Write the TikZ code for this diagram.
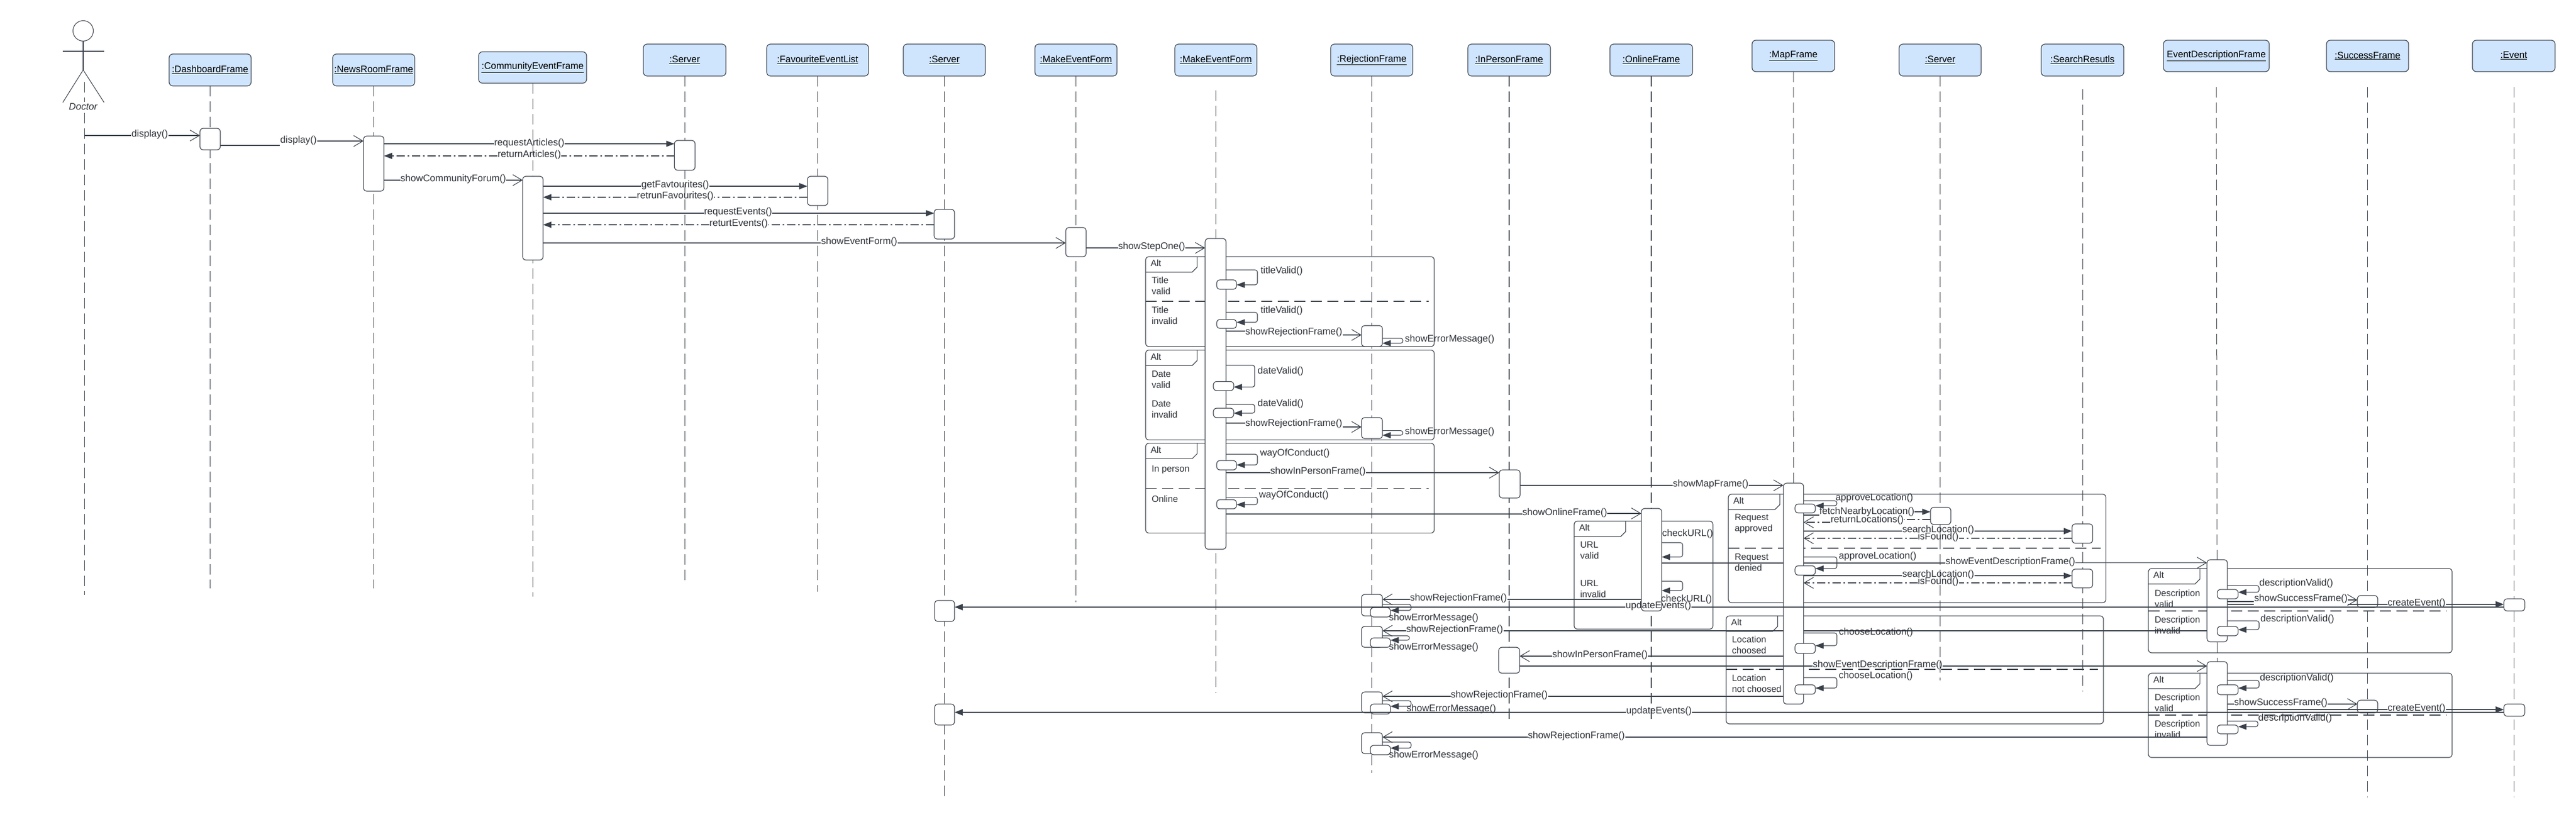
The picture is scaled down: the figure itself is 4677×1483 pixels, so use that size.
\documentclass[tikz,border=0pt]{standalone}
\usepackage{fontspec}
\setmainfont{Liberation Sans}
\usetikzlibrary{arrows.meta,backgrounds}
\definecolor{ln}{HTML}{3A414A}
\definecolor{txt}{HTML}{2E3238}
\definecolor{hdrfill}{HTML}{CFE4FD}
\newcount\lbc
\tikzset{
  base/.style={line width=1.2pt,draw=ln},
  hdr/.style={base,fill=hdrfill,rounded corners=7pt,inner sep=0pt,outer sep=0pt,text=black,font=\fontsize{17.2}{20}\selectfont,line width=1.2pt},
  actbox/.style={base,fill=white,rounded corners=6pt,inner sep=0pt,outer sep=0pt,line width=1.2pt},
  lifeline/.style={draw=ln,line width=1pt,dash pattern=on 19pt off 9pt},
  lifebold/.style={draw=ln,line width=1.8pt,dash pattern=on 19pt off 9pt},
  framebox/.style={base,rounded corners=6pt,inner sep=0pt,outer sep=0pt,line width=1.2pt},
  tabline/.style={base,line width=1.2pt},
  divider/.style={draw=ln,line width=1.1pt,dash pattern=on 20pt off 10pt,shorten >=10pt},
  lbl/.style={inner sep=0.5pt,outer sep=0pt,text=txt,font=\fontsize{17.5}{20}\selectfont},
  frtext/.style={inner sep=0pt,outer sep=0pt,text=txt,font=\fontsize{16.5}{20}\selectfont,align=left,anchor=west},
  msgline/.style={base},
  heavy/.style={line width=2.5pt},
  dd/.style={dash pattern=on 15pt off 5pt on 3pt off 5pt,line width=1.8pt},
  ddthin/.style={dash pattern=on 15pt off 5pt on 3pt off 5pt,line width=1.2pt},
  fhead/.style={-{Triangle[length=15pt,width=11pt]}},
  ohead/.style={-{Straight Barb[length=17pt,width=20pt,line width=1.1pt]}},
  selfl/.style={base,rounded corners=4pt,fhead},
}
\newcommand{\hdbox}[6]{\node[hdr,minimum width={(#4-#2)*1pt},minimum height={(#5-#3)*1pt}] (#1) at ({(#2+#4)/2},{(#3+#5)/2}) {\raisebox{3pt}{\underline{#6}}};}
\newcommand{\actv}[5]{\node[actbox,minimum width={(#4-#2)*1pt},minimum height={(#5-#3)*1pt}] (#1) at ({(#2+#4)/2},{(#3+#5)/2}) {};}
\newcommand{\msgr}[9][]{\global\advance\lbc by 1
  \node[lbl,name=lb\the\lbc] at (#4,#5) {#6};
  \draw[msgline,#1] (#2 |- 0,#3) -- (lb\the\lbc.west |- 0,#3);
  \draw[msgline,#1,#9] (lb\the\lbc.east |- 0,#8) -- (#7 |- 0,#8);}
\newcommand{\msgl}[9][]{\global\advance\lbc by 1
  \node[lbl,name=lb\the\lbc] at (#4,#5) {#6};
  \draw[msgline,#1] (#2 |- 0,#3) -- (lb\the\lbc.east |- 0,#3);
  \draw[msgline,#1,#9] (lb\the\lbc.west |- 0,#8) -- (#7 |- 0,#8);}
\newcommand{\mlab}[3]{\global\advance\lbc by 1 \node[lbl,name=lb\the\lbc] at (#1,#2) {#3};}
\newcommand{\selfm}[6][]{\draw[selfl,#1] (#2.east |- 0,#3) -- (#4,#3) -- (#4,#5) -- (#6.east |- 0,#5);}
\newcommand{\altfr}[5]{%
  \node[framebox,minimum width={(#4-#2)*1pt},minimum height={(#5-#3)*1pt}] (#1) at ({(#2+#4)/2},{(#3+#5)/2}) {};
  \draw[tabline] ({#2+93.5},#3) -- ({#2+93.5},{#3+19}) -- ({#2+84.5},{#3+28}) -- (#1.west |- 0,{#3+28});
  \node[frtext,name=#1t] at ({#2+9},{#3+12}) {Alt};}
\begin{document}
\begin{tikzpicture}[x=1pt,y=-1pt]
\useasboundingbox (0,0) rectangle (4677,1483);

% headers
\hdbox{hDash}{307}{98}{456}{156}{:DashboardFrame}
\hdbox{hNews}{604}{98}{753}{156}{:NewsRoomFrame}
\hdbox{hComm}{869}{94}{1065}{151}{:CommunityEventFrame}
\hdbox{hSrvA}{1168}{80}{1318}{138}{:Server}
\hdbox{hFav}{1392}{80}{1577}{138}{:FavouriteEventList}
\hdbox{hSrvB}{1640}{80}{1789}{138}{:Server}
\hdbox{hMkA}{1879}{80}{2028}{138}{:MakeEventForm}
\hdbox{hMkB}{2133}{80}{2282}{138}{:MakeEventForm}
\hdbox{hRej}{2416}{80}{2565}{138}{:RejectionFrame}
\hdbox{hInP}{2665}{80}{2815}{138}{:InPersonFrame}
\hdbox{hOnl}{2923}{80}{3073}{138}{:OnlineFrame}
\hdbox{hMap}{3181}{73}{3331}{130}{:MapFrame}
\hdbox{hSrvC}{3448}{80}{3597}{138}{:Server}
\hdbox{hSea}{3706}{80}{3856}{138}{:SearchResutls}
\hdbox{hEvD}{3928}{73}{4120}{130}{EventDescriptionFrame}
\hdbox{hSuc}{4224}{73}{4373}{130}{:SuccessFrame}
\hdbox{hEvt}{4489}{73}{4639}{130}{:Event}

% actor
\node[circle,draw=ln,line width=1.1pt,minimum size=37pt,inner sep=0pt,outer sep=0pt] (actorhead) at (151,56) {};
\coordinate (actorhip) at (151,127);
\coordinate (armL) at (114,93);
\coordinate (armR) at (189,93);
\coordinate (legL) at (114,186);
\coordinate (legR) at (189,186);
\draw[ln,line width=1.1pt] (actorhead.south) -- (actorhip);
\draw[ln,line width=1.1pt] (armL) -- (armR);
\draw[ln,line width=1.1pt] (legL) -- (actorhip) -- (legR);
\node[lbl,fill=white,inner ysep=3pt,name=actorname] at (151,194) {\itshape Doctor};
\coordinate (actorline) at (153,149);

% activations
\actv{aDash}{363}{233}{400}{272}
\actv{aNews}{660}{247}{697}{347}
\actv{aComm}{949}{320}{986}{472}
\actv{aSrvA}{1224.5}{255}{1262}{309}
\actv{aFav}{1466}{320}{1503}{373}
\actv{aSrvB}{1696}{380}{1733}{434}
\actv{aMkA}{1935}{413}{1972}{466}
\actv{aMkB}{2188}{433}{2226}{997}
\actv{sT1}{2209}{508}{2245}{525}
\actv{sT2}{2209}{580}{2245}{596}
\actv{rej1}{2472}{591}{2510}{629}
\actv{sD1}{2203}{692.5}{2240}{709}
\actv{sD2}{2203}{741}{2240}{758}
\actv{rej2}{2472}{758}{2510}{796}
\actv{sW1}{2209}{836}{2245}{853}
\actv{sW2}{2209}{907}{2245}{923.6}
\actv{inA}{2722}{853}{2760}{904}
\actv{onl}{2980}{923}{3017}{1109}
\actv{map}{3238}{877}{3274.5}{1278}
\actv{mS1}{3259}{915}{3296}{931}
\actv{mS2}{3259}{1027}{3296}{1044}
\actv{mC1}{3259}{1168}{3296}{1186}
\actv{mC2}{3259}{1243}{3296}{1260}
\actv{srvC}{3505}{921}{3542}{952}
\actv{sea1}{3762}{951}{3799.5}{986}
\actv{sea2}{3762}{1033}{3799.5}{1067}
\actv{evd1}{4007}{1016}{4044}{1165}
\actv{evd2}{4007}{1201}{4044}{1353}
\actv{eS1}{4025.6}{1070}{4063.6}{1087}
\actv{eS2}{4025.6}{1137}{4063.6}{1154}
\actv{eS3}{4025.6}{1243}{4063.6}{1261}
\actv{eS4}{4025.6}{1316}{4063.6}{1332}
\actv{suc1}{4280}{1081}{4317}{1103}
\actv{suc2}{4280}{1271}{4317}{1294}
\actv{evt1}{4546}{1087}{4584}{1109}
\actv{evt2}{4546}{1278}{4584}{1300}
\actv{srvL1}{1697}{1090}{1733}{1128}
\actv{srvL2}{1697}{1278}{1733}{1316}
\actv{rej3}{2472}{1079}{2510}{1118}
\actv{rej3s}{2488}{1103}{2524.5}{1120}
\actv{rej4}{2472}{1137}{2510}{1175}
\actv{rej4s}{2488}{1158}{2524.5}{1175}
\actv{inB}{2721}{1175}{2759}{1222}
\actv{rej5}{2472}{1256}{2510}{1294}
\actv{rej5s}{2488}{1278}{2524.5}{1296}
\actv{rej6}{2472}{1330}{2510}{1368}
\actv{rej6s}{2488}{1353}{2524.5}{1370}

% lifelines and frames behind everything
\begin{scope}[on background layer]
\fill[white] (0,0) rectangle (4677,1483);
\draw[lifeline] (actorline) -- (actorline |- 0,1080);
\draw[lifeline] (hDash.south) -- (hDash.south |- 0,1068);
\draw[lifeline] (hNews.south) -- (hNews.south |- 0,1068);
\draw[lifeline] (hComm.south) -- (hComm.south |- 0,1083);
\draw[lifeline] (hSrvA.south) -- (hSrvA.south |- 0,1059);
\draw[lifeline] (hFav.south) -- (hFav.south |- 0,1074);
\draw[lifeline] (hSrvB.south) -- (hSrvB.south |- 0,1445);
\draw[lifeline] (hMkA.south) -- (hMkA.south |- 0,1093);
\draw[lifeline] (hMkB.south |- 0,164) -- (hMkB.south |- 0,1258);
\draw[lifeline] (hRej.south) -- (hRej.south |- 0,1403);
\draw[lifebold] (hInP.south) -- (hInP.south |- 0,1313);
\draw[lifebold] (hOnl.south) -- (hOnl.south |- 0,1313);
\draw[lifeline] (hMap.south) -- (map.north);
\draw[lifebold] (hSrvC.south) -- (hSrvC.south |- 0,1235);
\draw[lifeline] (hSea.south |- 0,162) -- (hSea.south |- 0,1255);
\draw[lifeline] (hEvD.south |- 0,158) -- (evd2.north);
\draw[lifeline] (hSuc.south |- 0,158) -- (hSuc.south |- 0,1447);
\draw[lifeline] (hEvt.south |- 0,158) -- (hEvt.south |- 0,1447);

\altfr{frA}{2080}{466}{2604}{629}
\altfr{frB}{2080}{635.5}{2604}{798.5}
\altfr{frC}{2080}{804.6}{2604}{967.6}
\altfr{frD}{2858}{946}{3110}{1142}
\altfr{frE}{3138}{897}{3823.5}{1094}
\altfr{frF}{3134}{1118}{3819}{1314}
\altfr{frG}{3900.6}{1032}{4452}{1185}
\altfr{frH}{3900.6}{1222}{4452}{1375}
\draw[divider] (frA.west |- 0,547) -- (frA.east |- 0,547);
\draw[divider] (frC.west |- 0,886.5) -- (frC.east |- 0,886.5);
\draw[divider] (frE.west |- 0,995) -- (frE.east |- 0,995);
\draw[divider] (frF.west |- 0,1215) -- (frF.east |- 0,1215);
\draw[divider] (frG.west |- 0,1109) -- (frG.east |- 0,1109);
\draw[divider] (frH.west |- 0,1298) -- (frH.east |- 0,1298);

% thin long messages that pass behind the map activation
\msgr{onl.east}{1022}{3650}{1020}{showEventDescriptionFrame()}{evd1.west}{1021.5}{ohead}
\msgl{evd1.west}{1145}{2641}{1143}{showRejectionFrame()}{rej4.east}{1145}{ohead}
\end{scope}

% frame texts
\node[frtext,name=t1] at (2091,519) {Title\\valid};
\node[frtext,name=t2] at (2091,573) {Title\\invalid};
\node[frtext,name=t3] at (2091,689) {Date\\valid};
\node[frtext,name=t4] at (2091,742.5) {Date\\invalid};
\node[frtext,name=t5] at (2091,852.5) {In person};
\node[frtext,name=t6] at (2091,905.6) {Online};
\node[frtext,name=t7] at (2869,999) {URL\\valid};
\node[frtext,name=t8] at (2869,1069) {URL\\invalid};
\node[frtext,name=t9] at (3149.5,951) {Request\\approved};
\node[frtext,name=t10] at (3149.5,1021) {Request\\denied};
\node[frtext,name=t11] at (3144.5,1171) {Location\\choosed};
\node[frtext,name=t12] at (3144.5,1241) {Location\\not choosed};
\node[frtext,name=t13] at (3912,1086.5) {Description\\valid};
\node[frtext,name=t14] at (3912,1135) {Description\\invalid};
\node[frtext,name=t15] at (3912,1275.5) {Description\\valid};
\node[frtext,name=t16] at (3912,1323.5) {Description\\invalid};

% first messages
\msgr[heavy]{actorline}{246}{272}{244}{display()}{aDash.west}{246}{ohead}
\msgr{aDash.east}{264}{542}{255}{display()}{aNews.west}{256}{ohead}
\msgr{aNews.east}{261}{961}{260}{requestArticles()}{aSrvA.west}{261}{fhead}
\msgl[dd]{aSrvA.west}{283}{961}{281}{returnArticles()}{aNews.east}{283}{fhead}
\msgr[heavy]{aNews.east}{327}{823}{325}{showCommunityForum()}{aComm.west}{327}{ohead}
\msgr[heavy]{aComm.east}{338}{1226}{336}{getFavtourites()}{aFav.west}{338}{fhead}
\msgl[dd]{aFav.west}{358}{1226}{356}{retrunFavourites()}{aComm.east}{358}{fhead}
\msgr{aComm.east}{387}{1340}{385}{requestEvents()}{aSrvB.west}{387}{fhead}
\msgl[dd]{aSrvB.west}{408}{1341}{406}{returtEvents()}{aComm.east}{408}{fhead}
\msgr[heavy]{aComm.east}{441}{1560}{439}{showEventForm()}{aMkA.west}{441}{ohead}
\msgr{aMkA.east}{450}{2091}{448}{showStepOne()}{aMkB.west}{450}{ohead}

% title / date / way of conduct
\selfm{aMkB}{490}{2283}{517}{sT1}
\mlab{2327}{492}{titleValid()}
\selfm{aMkB}{567}{2283}{585}{sT2}
\mlab{2327}{564}{titleValid()}
\msgr{aMkB.east}{601}{2349}{602.5}{showRejectionFrame()}{rej1.west}{608}{ohead}
\selfm{rej1}{614}{2547}{623}{rej1}
\mlab{2632}{616}{showErrorMessage()}
\selfm{aMkB}{663}{2278}{702.5}{sD1}
\mlab{2325}{674}{dateValid()}
\selfm{aMkB}{734}{2278}{750}{sD2}
\mlab{2325}{733}{dateValid()}
\msgr{aMkB.east}{768}{2349}{769}{showRejectionFrame()}{rej2.west}{775}{ohead}
\selfm{rej2}{781.6}{2547}{790}{rej2}
\mlab{2632}{783.5}{showErrorMessage()}
\selfm{aMkB}{824.5}{2283}{844}{sW1}
\mlab{2351}{823}{wayOfConduct()}
\msgr{aMkB.east}{858}{2393}{855.5}{showInPersonFrame()}{inA.west}{858}{ohead}
\selfm{aMkB}{902.6}{2283}{916}{sW2}
\mlab{2349}{899}{wayOfConduct()}
\msgr{aMkB.east}{933}{2841}{931}{showOnlineFrame()}{onl.west}{932}{ohead}
\msgr[heavy]{inA.east}{881}{3106}{879}{showMapFrame()}{map.west}{881}{ohead}

% online frame
\selfm{onl}{985}{3055}{1011}{onl}
\mlab{3064}{969}{checkURL()}
\selfm{onl}{1055}{3055}{1072}{onl}
\mlab{3062}{1088}{checkURL()}
\msgl{onl.west}{1088}{2648}{1086}{showRejectionFrame()}{rej3.east}{1088}{ohead}
\selfm{rej3}{1097}{2562}{1108}{rej3s}
\mlab{2603}{1122}{showErrorMessage()}
\selfm{rej4}{1154}{2559}{1162}{rej4s}
\mlab{2603}{1175}{showErrorMessage()}

% map frame
\selfm{map}{909}{3335}{918}{mS1}
\mlab{3403}{904}{approveLocation()}
\msgr{map.east}{935}{3389.5}{929}{fetchNearbyLocation()}{srvC.west}{929}{fhead}
\msgl[ddthin]{srvC.west}{943}{3390}{944}{returnLocations()}{map.east}{948}{ohead}
\msgr[heavy]{map.east}{964}{3519}{962}{searchLocation()}{sea1.west}{964}{fhead}
\msgl[dd]{sea1.west}{977}{3519}{975}{isFound()}{map.east}{977}{ohead}
\selfm{map}{1011}{3335}{1032}{mS2}
\mlab{3409}{1010}{approveLocation()}
\msgr{map.east}{1045}{3519}{1043}{searchLocation()}{sea2.west}{1045}{fhead}
\msgl[ddthin]{sea2.west}{1058}{3519}{1056}{isFound()}{map.east}{1058}{ohead}
\selfm{map}{1149}{3335}{1172}{mC1}
\mlab{3406}{1148}{chooseLocation()}
\selfm{map}{1230}{3335}{1249}{mC2}
\mlab{3405.6}{1227}{chooseLocation()}
\msgl{map.west}{1191}{2905}{1189}{showInPersonFrame()}{inB.east}{1191}{ohead}
\msgr[heavy]{inB.east}{1209}{3409}{1207}{showEventDescriptionFrame()}{evd2.west}{1209}{ohead}
\msgl{map.west}{1264}{2722}{1262}{showRejectionFrame()}{rej5.east}{1264}{ohead}
\selfm{rej5}{1272}{2562}{1282}{rej5s}
\mlab{2635}{1287}{showErrorMessage()}
\msgl{evd2.west}{1338}{2862}{1336}{showRejectionFrame()}{rej6.east}{1338}{ohead}
\selfm{rej6}{1347}{2562}{1358}{rej6s}
\mlab{2603}{1371}{showErrorMessage()}

% description frames
\selfm{evd1}{1063}{4101.6}{1075}{eS1}
\mlab{4169}{1059}{descriptionValid()}
\msgr{evd1.east}{1092}{4177.5}{1087}{showSuccessFrame()}{suc1.west}{1089}{ohead}
\edef\ssname{lb\the\lbc}
\selfm{evd1}{1127}{4101.6}{1143}{eS2}
\mlab{4171}{1124}{descriptionValid()}
\mlab{4387.5}{1095}{createEvent()}
\edef\cename{lb\the\lbc}
\draw[msgline,heavy] (evd1.east |- 0,1097) -- (\ssname.west |- 0,1097);
\draw[msgline,heavy] (\ssname.east |- 0,1097) -- (\cename.west |- 0,1097);
\draw[msgline,heavy,fhead] (\cename.east |- 0,1097) -- (evt1.west |- 0,1097);

\selfm{evd2}{1235}{4101.6}{1249}{eS3}
\mlab{4170}{1231}{descriptionValid()}
\msgr{evd2.east}{1278}{4141}{1276}{showSuccessFrame()}{suc2.west}{1278}{ohead}
\msgr[heavy]{evd2.east}{1288}{4387.5}{1286}{createEvent()}{evt2.west}{1288}{fhead}
\selfm{evd2}{1309}{4099.5}{1319}{eS4}
\mlab{4167}{1304}{descriptionValid()}

% update events
\msgl[heavy]{evt1.west}{1102}{3011}{1100}{updateEvents()}{srvL1.east}{1102}{fhead}
\msgl[heavy]{evt2.west}{1293}{3012}{1291}{updateEvents()}{srvL2.east}{1293}{fhead}
\end{tikzpicture}
\end{document}
